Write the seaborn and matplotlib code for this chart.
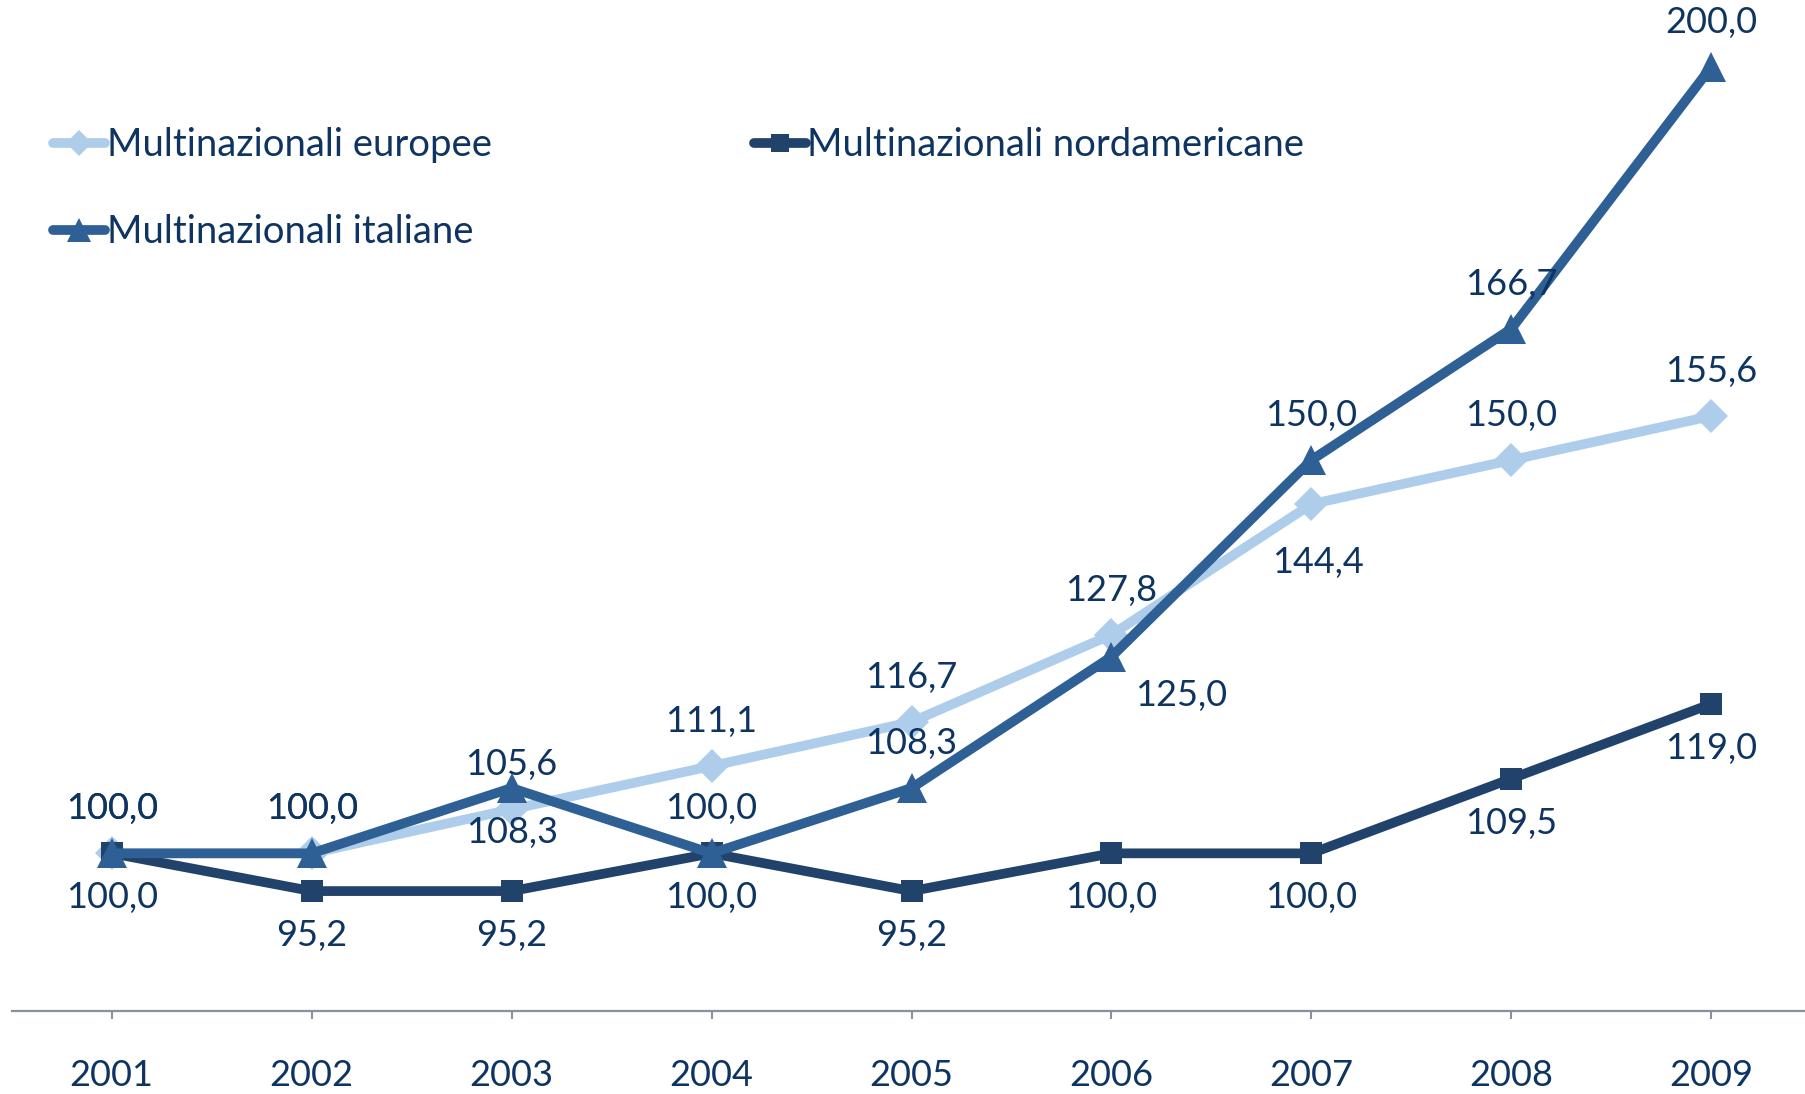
import numpy as np
import pandas as pd
import seaborn as sns
import matplotlib
matplotlib.use("Agg")
import matplotlib.pyplot as plt

# Values (index 2001 = 100)
years = [2001, 2002, 2003, 2004, 2005, 2006, 2007, 2008, 2009]
europee = [100.0, 100.0, 105.6, 111.1, 116.7, 127.8, 144.4, 150.0, 155.6]
nordamericane = [100.0, 95.2, 95.2, 100.0, 95.2, 100.0, 100.0, 109.5, 119.0]
italiane = [100.0, 100.0, 108.3, 100.0, 108.3, 125.0, 150.0, 166.7, 200.0]

series_names = ["Multinazionali europee", "Multinazionali italiane", "Multinazionali nordamericane"]
series_values = [europee, italiane, nordamericane]

# label placement per point: 1 = above, -1 = below
label_side = {
    "Multinazionali europee": [1, 1, 1, 1, 1, 1, -1, 1, 1],
    "Multinazionali italiane": [1, 1, -1, 1, 1, -1, 1, 1, 1],
    "Multinazionali nordamericane": [-1, -1, -1, -1, -1, -1, -1, -1, -1],
}

colors = {
    "Multinazionali europee": "#AECDEB",
    "Multinazionali italiane": "#2E5F95",
    "Multinazionali nordamericane": "#21426A",
}
markers = {
    "Multinazionali europee": "D",
    "Multinazionali italiane": "^",
    "Multinazionali nordamericane": "s",
}
text_color = "#0E3461"

rows = []
for name, vals in zip(series_names, series_values):
    for y, v in zip(years, vals):
        rows.append({"anno": y, "valore": v, "serie": name})
df = pd.DataFrame(rows)

sns.set_theme(style="white")
plt.rcParams["font.family"] = ["Lato", "DejaVu Sans"]

fig = plt.figure(figsize=(18.05, 10.94), dpi=100)
ax = fig.add_axes([0.0065, 0.0762, 0.997, 0.9238])

# draw in z-order: europee below, then nordamericane, then italiane on top
draw_order = ["Multinazionali europee", "Multinazionali nordamericane", "Multinazionali italiane"]
sizes = {"Multinazionali europee": 17, "Multinazionali italiane": 21, "Multinazionali nordamericane": 16}
for name in draw_order:
    sub = df[df["serie"] == name]
    sns.lineplot(data=sub, x="anno", y="valore", ax=ax, color=colors[name],
                 marker=markers[name], markersize=sizes[name], markeredgewidth=0,
                 linewidth=7, label=name, solid_capstyle="round")

# data labels
for name, vals in zip(series_names, series_values):
    for y, v, side in zip(years, vals, label_side[name]):
        dx = 0
        dy = 32 * side
        if name == "Multinazionali italiane" and y == 2006:
            dx = 50
            dy = -28
        if name == "Multinazionali europee" and y == 2007:
            dx = 5
            dy = -42
        ax.annotate(f"{v:.1f}".replace(".", ","), (y, v), xytext=(dx, dy),
                    textcoords="offset points", ha="center", va="center",
                    fontsize=26, color=text_color)

ax.set_xlim(2000.5, 2009.5)
ax.set_ylim(80, 208.5)
ax.set_xticks(years)
ax.set_xticklabels([str(y) for y in years])
ax.set_yticks([])
ax.set_xlabel("")
ax.set_ylabel("")
for s in ["top", "right", "left"]:
    ax.spines[s].set_visible(False)
ax.spines["bottom"].set_color("#8B90A0")
ax.spines["bottom"].set_linewidth(1.6)
ax.tick_params(axis="x", direction="out", length=6, width=1.5, color="#8B90A0",
               pad=29, labelsize=26, labelcolor=text_color, bottom=True)

handles, labels = ax.get_legend_handles_labels()
hmap = dict(zip(labels, handles))
order = ["Multinazionali europee", "Multinazionali italiane", "Multinazionali nordamericane"]
ax.legend([hmap[n] for n in order], order, loc="upper left",
          bbox_to_anchor=(0.023, 0.874), ncol=2, frameon=False,
          fontsize=27.5, labelcolor=text_color, handlelength=1.36,
          handletextpad=0.05, labelspacing=1.33, columnspacing=6.85,
          borderaxespad=0, borderpad=0, markerscale=0.8)

fig.savefig("out.png", dpi=100)
